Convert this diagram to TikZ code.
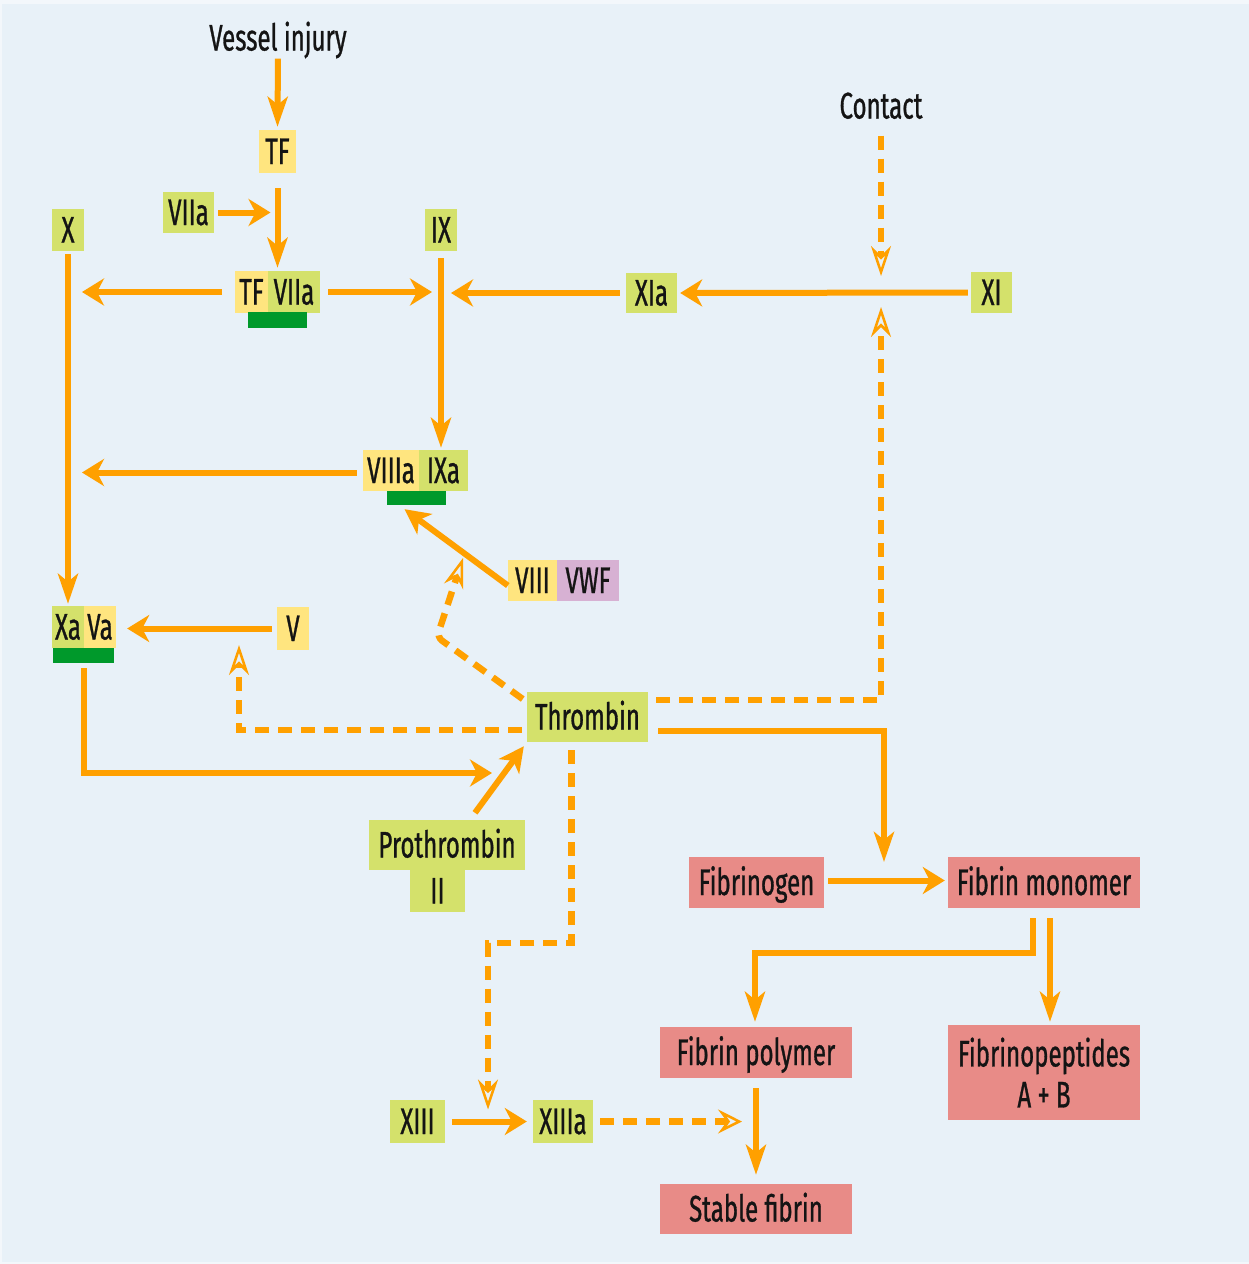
\documentclass[tikz,border=0pt]{standalone}
\usepackage{fontspec}
\setmainfont{Fira Sans}[FakeStretch=0.65,FakeBold=0.8]
\usetikzlibrary{arrows.meta,calc}
\definecolor{bgc}{HTML}{E8F1F8}
\definecolor{bgl}{HTML}{F3F7FB}
\definecolor{ylw}{HTML}{FFE57F}
\definecolor{grn}{HTML}{D4E16B}
\definecolor{rd}{HTML}{E88B87}
\definecolor{prp}{HTML}{D7B1D3}
\definecolor{barc}{HTML}{00992B}
\definecolor{org}{HTML}{FFA000}
\definecolor{txt}{HTML}{141414}
\begin{document}
\begin{tikzpicture}[x=1pt,y=-1pt,
 box/.style={inner sep=0pt, text=txt, font=\fontsize{37}{41}\selectfont, text height=25pt, text depth=0pt},
 yb/.style={box, fill=ylw},
 gb/.style={box, fill=grn},
 rb/.style={box, fill=rd},
 pb/.style={box, fill=prp},
 rbm/.style={inner sep=0pt, text=txt, font=\fontsize{37}{41}\selectfont, fill=rd, align=center},
 lbl/.style={inner sep=0pt, text=txt, font=\fontsize{37}{41}\selectfont, text height=25pt, text depth=0pt},
 barst/.style={inner sep=0pt, fill=barc},
 sline/.style={draw=org, line width=6pt},
 dline/.style={draw=org, line width=6.5pt, dash pattern=on 14pt off 9pt},
 arrV/.style={sline, -{Stealth[length=30pt,width=20pt,inset=8pt]}},
 arrH/.style={sline, -{Stealth[length=22pt,width=27pt,inset=7pt]}},
 arrD/.style={sline, -{Stealth[length=25pt,width=25pt,inset=7pt]}},
 darrV/.style={dline, -{Stealth[open,length=30pt,width=20pt,inset=10pt,line width=2.5pt]}},
 darrH/.style={dline, -{Stealth[open,length=24pt,width=24pt,inset=9pt,line width=2.5pt]}},
]
\useasboundingbox (0,0) rectangle (1249,1264);
\fill[bgl] (0,0) rectangle (1249,1264);
\fill[bgc] (2,4) rectangle (1249,1262);

% nodes
\node[lbl] (vi) at (278,38) {Vessel injury};
\node[lbl] (contact) at (881,106) {Contact};
\node[yb, minimum width=37pt, minimum height=43pt] (tf) at (277.5,151.5) {TF};
\node[gb, minimum width=51pt, minimum height=41pt] (viia) at (188.5,212.5) {VIIa};
\node[gb, minimum width=32pt, minimum height=42pt] (nx) at (68,230) {X};
\node[yb, minimum width=33pt, minimum height=42pt] (tfc) at (251.5,292) {TF};
\node[gb, minimum width=52pt, minimum height=42pt] (viiac) at (294,292) {VIIa};
\node[barst, minimum width=59pt, minimum height=16pt] (bar1) at (277.5,320) {};
\node[gb, minimum width=32pt, minimum height=42pt] (ix) at (441,230) {IX};
\node[gb, minimum width=51pt, minimum height=40pt] (xia) at (651.5,293) {XIa};
\node[gb, minimum width=41pt, minimum height=41pt] (xi) at (991.5,292.5) {XI};
\node[yb, minimum width=56pt, minimum height=41pt] (viiia) at (391,470.5) {VIIIa};
\node[gb, minimum width=49pt, minimum height=41pt] (ixa) at (443.5,470.5) {IXa};
\node[barst, minimum width=59pt, minimum height=14pt] (bar2) at (416.5,498) {};
\node[yb, minimum width=49pt, minimum height=41pt] (viii) at (532.5,580.5) {VIII};
\node[pb, minimum width=62pt, minimum height=41pt] (vwf) at (588,580.5) {VWF};
\node[gb, minimum width=32pt, minimum height=42pt] (xa) at (68,627) {Xa};
\node[yb, minimum width=32pt, minimum height=42pt] (va) at (100,627) {Va};
\node[barst, minimum width=61pt, minimum height=15pt] (bar3) at (83.5,655.5) {};
\node[yb, minimum width=32pt, minimum height=43pt] (nv) at (293,628.5) {V};
\node[gb, minimum width=121pt, minimum height=50pt] (thr) at (587.5,717) {Thrombin};
\node[gb, minimum width=156pt, minimum height=50pt] (pro) at (447,845) {Prothrombin};
\node[gb, minimum width=55pt, minimum height=42pt] (ii) at (437.5,891) {II};
\node[rb, minimum width=135pt, minimum height=51pt] (fgen) at (756.5,882.5) {Fibrinogen};
\node[rb, minimum width=192pt, minimum height=51pt] (fmon) at (1044,882.5) {Fibrin monomer};
\node[rb, minimum width=192pt, minimum height=51pt] (fpol) at (756,1052.5) {Fibrin polymer};
\node[rbm, minimum width=192pt, minimum height=95pt] (fpep) at (1044,1072.5) {Fibrinopeptides\\A + B};
\node[rb, minimum width=192pt, minimum height=50pt] (stab) at (756,1209) {Stable fibrin};
\node[gb, minimum width=55pt, minimum height=43pt] (xiii) at (417.5,1121.5) {XIII};
\node[gb, minimum width=60pt, minimum height=43pt] (xiiia) at (563,1121.5) {XIIIa};

% junction coordinates
\coordinate (cj) at (881,293);
\coordinate (vj) at (239,630);
\coordinate (bend) at (437,637);
\coordinate (vj2) at (463,558);
\coordinate (xj) at (494,773);
\coordinate (fj) at (884,880);
\coordinate (fb) at (755,953);
\coordinate (dj) at (488,943);

% solid connectors
\draw[arrV, shorten <=8pt, shorten >=3pt] (vi.south) -- (tf.north);
\draw[arrV, shorten <=15pt, shorten >=3pt] (tf.south) -- (tf.south |- viiac.north);
\draw[arrH, shorten <=4pt] (viia.east) -- ([xshift=-7pt]viia.east -| tf.south);
\draw[arrH, shorten <=13pt, shorten >=14pt] (tfc.west) -- (tfc.west -| nx.south);
\draw[arrH, shorten <=8pt, shorten >=9pt] (viiac.east) -- (viiac.east -| ix.south);
\draw[arrV, shorten <=7pt, shorten >=2pt] (ix.south) -- (ix.south |- ixa.north);
\draw[arrH, shorten <=6pt, shorten >=10pt] (xia.west) -- (xia.west -| ix.south);
\draw[arrH, shorten <=3pt, shorten >=3pt] (xi.west) -- (xia.east);
\draw[arrV, shorten <=3pt, shorten >=2pt] (nx.south) -- (xa.north);
\draw[arrH, shorten <=6pt, shorten >=14pt] ([yshift=-2pt]viiia.west) -- ([yshift=-2pt]viiia.west -| nx.south);
\draw[arrD] ([yshift=-5pt]viii.west) -- ([xshift=-12pt,yshift=-4pt]bar2.south);
\draw[arrH, shorten <=5pt, shorten >=11pt] (nv.west) -- (nv.west -| va.east);
\draw[arrH, shorten <=5pt, shorten >=2pt] (bar3.south) |- (xj);
\draw[arrD, shorten >=5pt] ([xshift=28pt,yshift=7pt]pro.north) -- (thr.south west);
\draw[arrV, shorten <=10pt, shorten >=18pt] ([yshift=-14pt]thr.east) -| (fj);
\draw[arrH, shorten <=4pt, shorten >=3pt] ([yshift=2pt]fgen.east) -- ([yshift=2pt]fgen.east -| fmon.west);
\draw[arrV, shorten <=10pt, shorten >=5pt] ([xshift=-11pt]fmon.south) |- (fb) -- (fb |- fpol.north);
\draw[arrV, shorten <=10pt, shorten >=3pt] ([xshift=6pt]fmon.south) -- ([xshift=6pt]fpep.north);
\draw[arrV, shorten <=10pt, shorten >=9pt] (fpol.south) -- (stab.north);
\draw[arrH, shorten <=7pt, shorten >=6pt] (xiii.east) -- (xiiia.west);

% dashed connectors
\draw[darrV, shorten <=17pt, shorten >=17pt] (contact.south) -- (cj);
\draw[darrV, shorten <=8pt, shorten >=14pt] ([yshift=17pt]thr.east) -| (cj);
\draw[darrV, shorten <=5pt, shorten >=15pt] ([yshift=-13pt]thr.west) -| (vj);
\draw[darrV, rounded corners=6pt, shorten <=5pt] ([yshift=15pt]thr.west) -- (bend) -- (vj2);
\draw[darrH, shorten <=7pt, shorten >=14pt] (xiiia.east) -- (xiiia.east -| fpol.south);
\draw[darrV, shorten <=8pt, shorten >=12pt] ([xshift=-16pt]thr.south) |- (dj) -- (dj |- xiii.east);
\end{tikzpicture}
\end{document}
